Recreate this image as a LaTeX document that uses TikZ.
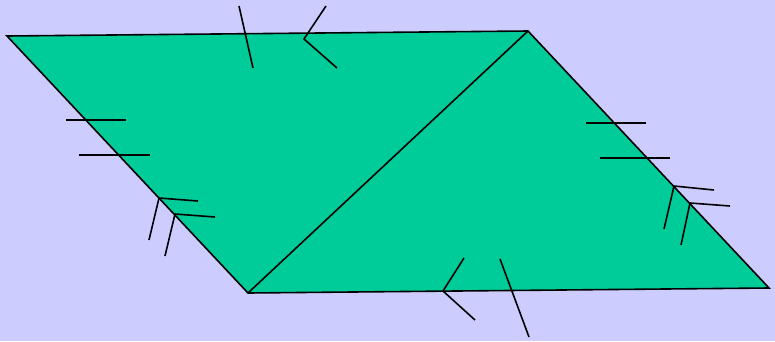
\documentclass[tikz,border=0pt]{standalone}
\definecolor{bg}{HTML}{CCCCFF}
\definecolor{fillg}{HTML}{00CC99}
\begin{document}
\begin{tikzpicture}[x=1pt,y=-1pt,line width=1.6pt,
  edge/.style={draw=black,line join=miter},
  tickmark/.style={draw=black,line width=1.6pt}]
\fill[bg] (0,0) rectangle (775,341);
\useasboundingbox (0,0) rectangle (775,341);
\coordinate (A) at (7,36);
\coordinate (B) at (528,31);
\coordinate (C) at (769,288);
\coordinate (D) at (248,293);
\fill[fillg] (A) -- (B) -- (C) -- (D) -- cycle;
\draw[edge] (A) -- (B) -- (C) -- (D) -- cycle;
\draw[edge] (D) -- (B);
% top edge
\draw[tickmark] (239,6) -- (253,68);
\draw[tickmark] (326,6) -- (304,39) -- (337,68);
% left edge
\draw[tickmark] (66,120) -- (126,120);
\draw[tickmark] (79,155) -- (150,155);
\draw[tickmark] (198,201) -- (159,198) -- (149,240);
\draw[tickmark] (215,217) -- (175,214) -- (165,256);
% right edge
\draw[tickmark] (586,123) -- (646,123);
\draw[tickmark] (600,158) -- (670,158);
\draw[tickmark] (714,190) -- (674,186) -- (664,229);
\draw[tickmark] (730,206) -- (690,203) -- (681,245);
% bottom edge
\draw[tickmark] (464,258) -- (443,291) -- (475,320);
\draw[tickmark] (500,259) -- (529,337);
\end{tikzpicture}
\end{document}
